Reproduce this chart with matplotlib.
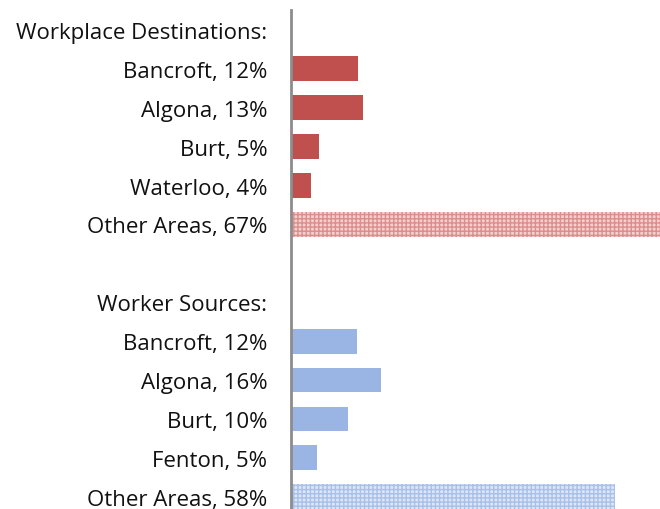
import numpy as np
import matplotlib.pyplot as plt

plt.rcParams['font.family'] = ['Open Sans', 'DejaVu Sans']
plt.rcParams['hatch.linewidth'] = 1.0

dest_names = ['Bancroft', 'Algona', 'Burt', 'Waterloo', 'Other Areas']
dest_values = [12.0, 12.9, 5.0, 3.6, 67.0]
dest_pct = [12, 13, 5, 4, 67]

src_names = ['Bancroft', 'Algona', 'Burt', 'Fenton', 'Other Areas']
src_values = [11.8, 16.1, 10.2, 4.7, 58.1]
src_pct = [12, 16, 10, 5, 58]

red = '#C0504D'
red_light = '#F3CFCE'
red_hatch = '#DB8E8C'
blue = '#9AB4E3'
blue_light = '#DDE6F7'
blue_hatch = '#A9C0E8'

# row layout: header, 5 bars, blank, header, 5 bars
labels = ['Workplace Destinations:']
labels += ['%s, %d%%' % (n, p) for n, p in zip(dest_names, dest_pct)]
labels += ['', 'Worker Sources:']
labels += ['%s, %d%%' % (n, p) for n, p in zip(src_names, src_pct)]
n_rows = len(labels)

W, H = 660, 510
fig = plt.figure(figsize=(W / 100, H / 100), dpi=100)
top_px, row_h = 11.5, 38.9
bottom_px = top_px + row_h * n_rows
left_px, right_px = 291, 665
ax = fig.add_axes([left_px / W, 1 - bottom_px / H,
                   (right_px - left_px) / W, (bottom_px - top_px) / H])

dest_rows = np.arange(1, 6)
src_rows = np.arange(8, 13)
bh = 0.64

ax.barh(dest_rows[:-1], dest_values[:-1], height=bh, color=red, linewidth=0)
ax.barh(dest_rows[-1:], dest_values[-1:], height=bh, color=red_light,
        edgecolor=red_hatch, hatch='++++', linewidth=0)
ax.barh(src_rows[:-1], src_values[:-1], height=bh, color=blue, linewidth=0)
ax.barh(src_rows[-1:], src_values[-1:], height=bh, color=blue_light,
        edgecolor=blue_hatch, hatch='++++', linewidth=0)

ax.set_ylim(n_rows - 0.5, -0.5)
ax.set_xlim(0, 67)
ax.set_yticks(np.arange(n_rows))
ax.set_yticklabels(labels, fontsize=16, color='#111111')
ax.tick_params(axis='y', length=0, pad=17)
ax.set_xticks([])

for s in ['top', 'right', 'bottom']:
    ax.spines[s].set_visible(False)
ax.spines['left'].set_color('#8C8C8C')
ax.spines['left'].set_linewidth(2)

fig.savefig('out.png', dpi=100)
